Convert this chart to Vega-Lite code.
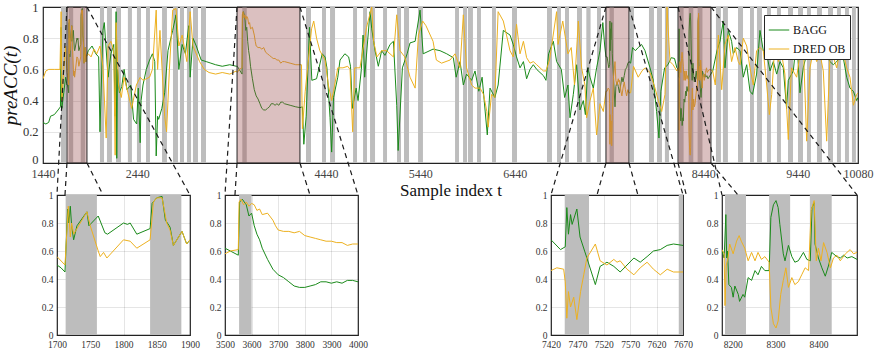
{
"$schema":"https://vega.github.io/schema/vega-lite/v6.json",
"background":"white",
"padding":{"left":0,"top":0,"right":0,"bottom":0},
"bounds":"flush",
"spacing":32,
"resolve":{"scale":{"color":"independent"}},
"config":{
  "font":"Liberation Serif",
  "view":{"stroke":"#262626","strokeWidth":1.2},
  "axis":{"labelFont":"Liberation Serif","titleFont":"Liberation Serif","labelColor":"#333","titleColor":"#111","domain":false,"ticks":false,"gridColor":"#000","gridOpacity":0.13,"gridWidth":0.8,"titleFontWeight":"normal","labelFlush":false,"labelOverlap":false,"labelBound":false,"zindex":1,"tickCount":40},
  "line":{"strokeWidth":1}
},
"datasets":{
"bands":[{"start":1631,"end":1684},{"start":1713,"end":1760},{"start":1840,"end":1887},{"start":2044,"end":2087},{"start":2118,"end":2171},{"start":2214,"end":2267},{"start":2340,"end":2383},{"start":2436,"end":2479},{"start":2532,"end":2574},{"start":2702,"end":2754},{"start":2818,"end":2871},{"start":2892,"end":2935},{"start":2966,"end":3009},{"start":3030,"end":3083},{"start":3115,"end":3168},{"start":3553,"end":3600},{"start":4228,"end":4281},{"start":4398,"end":4440},{"start":4483,"end":4536},{"start":4727,"end":4769},{"start":4833,"end":4875},{"start":4907,"end":4960},{"start":5045,"end":5087},{"start":5193,"end":5235},{"start":5267,"end":5320},{"start":5416,"end":5468},{"start":5808,"end":5850},{"start":5893,"end":5935},{"start":5945,"end":5998},{"start":6041,"end":6083},{"start":6200,"end":6242},{"start":6412,"end":6465},{"start":6783,"end":6836},{"start":6889,"end":6931},{"start":6974,"end":7016},{"start":7101,"end":7154},{"start":7200,"end":7245},{"start":7313,"end":7355},{"start":7446,"end":7492},{"start":7662,"end":7705},{"start":7864,"end":7917},{"start":7949,"end":8002},{"start":8033,"end":8076},{"start":8182,"end":8231},{"start":8285,"end":8334},{"start":8380,"end":8431},{"start":8574,"end":8627},{"start":8648,"end":8701},{"start":8808,"end":8861},{"start":8935,"end":8977},{"start":9009,"end":9062},{"start":9115,"end":9157},{"start":9221,"end":9263},{"start":9338,"end":9391},{"start":9444,"end":9497},{"start":9539,"end":9581},{"start":9645,"end":9698},{"start":9762,"end":9815},{"start":9857,"end":9899},{"start":9942,"end":9984},{"start":10016,"end":10058}],
"zones":[{"start":1694,"end":1906},{"start":3497,"end":4164},{"start":7408,"end":7652},{"start":8172,"end":8521}],
"links":[
{"x":1694,"y":1,"x2":1588,"y2":-0.205},{"x":1694,"y":0,"x2":1673,"y2":-0.205},{"x":1906,"y":0,"x2":2076,"y2":-0.205},{"x":1906,"y":1,"x2":2998,"y2":-0.205},
{"x":3497,"y":1,"x2":3369,"y2":-0.205},{"x":3497,"y":0,"x2":3475,"y2":-0.205},{"x":4164,"y":0,"x2":4270,"y2":-0.205},{"x":4164,"y":1,"x2":4779,"y2":-0.205},
{"x":7408,"y":1,"x2":6825,"y2":-0.205},{"x":7408,"y":0,"x2":7313,"y2":-0.205},{"x":7652,"y":0,"x2":7747,"y2":-0.205},{"x":7652,"y":1,"x2":8225,"y2":-0.205},
{"x":8172,"y":1,"x2":8638,"y2":-0.205},{"x":8172,"y":0,"x2":8260,"y2":-0.205},{"x":8521,"y":0,"x2":8808,"y2":-0.205},{"x":8521,"y":1,"x2":10069,"y2":-0.205}],
"bagg":[
{"t":1440,"v":0.26},{"t":1470,"v":0.25},{"t":1500,"v":0.26},{"t":1520,"v":0.30},{"t":1560,"v":0.31},{"t":1600,"v":0.34},{"t":1625,"v":0.36},{"t":1632,"v":0.87},{"t":1640,"v":0.35},{"t":1660,"v":0.45},{"t":1680,"v":0.55},{"t":1694,"v":0.50},
{"t":1700,"v":0.50},{"t":1706,"v":0.48},{"t":1712,"v":0.45},{"t":1716,"v":0.90},{"t":1718,"v":0.80},{"t":1720,"v":0.92},{"t":1722,"v":0.78},{"t":1725,"v":0.68},{"t":1730,"v":0.78},{"t":1745,"v":0.88},{"t":1748,"v":0.78},{"t":1762,"v":0.85},{"t":1772,"v":0.73},{"t":1776,"v":0.72},{"t":1800,"v":0.80},{"t":1806,"v":0.79},{"t":1810,"v":0.80},{"t":1820,"v":0.72},{"t":1840,"v":0.76},{"t":1843,"v":0.94},{"t":1850,"v":0.98},{"t":1858,"v":0.99},{"t":1863,"v":0.82},{"t":1866,"v":0.80},{"t":1870,"v":0.77},{"t":1875,"v":0.64},{"t":1888,"v":0.74},{"t":1895,"v":0.65},{"t":1900,"v":0.68},
{"t":1920,"v":0.72},{"t":1960,"v":0.75},{"t":2000,"v":0.70},{"t":2030,"v":0.68},{"t":2044,"v":0.20},{"t":2075,"v":0.85},{"t":2090,"v":0.90},{"t":2130,"v":0.55},{"t":2160,"v":0.70},{"t":2190,"v":0.76},{"t":2205,"v":0.30},{"t":2215,"v":0.97},{"t":2222,"v":0.03},{"t":2230,"v":0.60},{"t":2250,"v":0.45},{"t":2275,"v":0.49},{"t":2300,"v":0.60},{"t":2330,"v":0.47},{"t":2370,"v":0.50},{"t":2400,"v":0.28},{"t":2433,"v":0.25},{"t":2450,"v":0.48},{"t":2470,"v":0.13},{"t":2480,"v":0.40},{"t":2500,"v":0.50},{"t":2535,"v":0.60},{"t":2570,"v":0.66},{"t":2600,"v":0.70},{"t":2625,"v":0.65},{"t":2640,"v":0.045},{"t":2655,"v":0.30},{"t":2666,"v":0.28},{"t":2700,"v":0.35},{"t":2730,"v":0.45},{"t":2765,"v":0.72},{"t":2815,"v":0.85},{"t":2850,"v":0.95},{"t":2880,"v":0.60},{"t":2915,"v":0.76},{"t":2950,"v":0.70},{"t":2985,"v":0.88},{"t":3000,"v":0.55},{"t":3030,"v":0.80},{"t":3065,"v":0.75},{"t":3117,"v":0.66},{"t":3170,"v":0.65},{"t":3220,"v":0.64},{"t":3270,"v":0.63},{"t":3340,"v":0.62},{"t":3420,"v":0.63},{"t":3490,"v":0.62},
{"t":3500,"v":0.62},{"t":3520,"v":0.60},{"t":3550,"v":0.57},{"t":3555,"v":0.95},{"t":3565,"v":0.97},{"t":3580,"v":0.93},{"t":3590,"v":0.85},{"t":3600,"v":0.87},{"t":3610,"v":0.78},{"t":3620,"v":0.72},{"t":3630,"v":0.68},{"t":3640,"v":0.62},{"t":3660,"v":0.54},{"t":3680,"v":0.47},{"t":3700,"v":0.43},{"t":3720,"v":0.41},{"t":3740,"v":0.38},{"t":3760,"v":0.35},{"t":3780,"v":0.34},{"t":3800,"v":0.34},{"t":3820,"v":0.35},{"t":3840,"v":0.36},{"t":3860,"v":0.38},{"t":3880,"v":0.38},{"t":3900,"v":0.37},{"t":3920,"v":0.38},{"t":3940,"v":0.37},{"t":3960,"v":0.39},{"t":3980,"v":0.39},{"t":4000,"v":0.38},{"t":4060,"v":0.37},{"t":4120,"v":0.36},{"t":4164,"v":0.355},
{"t":4190,"v":0.36},{"t":4205,"v":0.12},{"t":4230,"v":0.30},{"t":4265,"v":0.87},{"t":4290,"v":0.53},{"t":4340,"v":0.54},{"t":4400,"v":0.70},{"t":4430,"v":0.68},{"t":4450,"v":0.61},{"t":4483,"v":0.29},{"t":4500,"v":0.07},{"t":4520,"v":0.42},{"t":4565,"v":0.55},{"t":4589,"v":0.66},{"t":4640,"v":0.70},{"t":4680,"v":0.68},{"t":4700,"v":0.62},{"t":4720,"v":0.35},{"t":4760,"v":0.48},{"t":4780,"v":0.40},{"t":4815,"v":0.60},{"t":4833,"v":0.82},{"t":4850,"v":0.55},{"t":4907,"v":0.97},{"t":4925,"v":0.86},{"t":4960,"v":0.72},{"t":4995,"v":0.62},{"t":5030,"v":0.72},{"t":5065,"v":0.69},{"t":5119,"v":0.76},{"t":5155,"v":0.78},{"t":5190,"v":0.37},{"t":5205,"v":0.08},{"t":5250,"v":0.61},{"t":5300,"v":0.70},{"t":5331,"v":0.77},{"t":5385,"v":0.78},{"t":5437,"v":0.98},{"t":5470,"v":0.70},{"t":5575,"v":0.73},{"t":5649,"v":0.72},{"t":5720,"v":0.70},{"t":5790,"v":0.675},{"t":5820,"v":0.55},{"t":5861,"v":0.65},{"t":5896,"v":0.50},{"t":5930,"v":0.57},{"t":5984,"v":0.53},{"t":6020,"v":0.59},{"t":6060,"v":0.46},{"t":6095,"v":0.55},{"t":6150,"v":0.18},{"t":6179,"v":0.48},{"t":6230,"v":0.42},{"t":6265,"v":0.50},{"t":6320,"v":0.85},{"t":6391,"v":0.82},{"t":6425,"v":0.76},{"t":6460,"v":0.68},{"t":6497,"v":0.61},{"t":6533,"v":0.65},{"t":6567,"v":0.54},{"t":6603,"v":0.60},{"t":6638,"v":0.63},{"t":6674,"v":0.60},{"t":6709,"v":0.58},{"t":6745,"v":0.56},{"t":6772,"v":0.53},{"t":6800,"v":0.70},{"t":6850,"v":0.78},{"t":6885,"v":0.65},{"t":6935,"v":0.60},{"t":6970,"v":0.42},{"t":7005,"v":0.50},{"t":7027,"v":0.29},{"t":7062,"v":0.44},{"t":7097,"v":0.63},{"t":7133,"v":0.34},{"t":7168,"v":0.40},{"t":7190,"v":0.31},{"t":7215,"v":0.61},{"t":7239,"v":0.55},{"t":7274,"v":0.48},{"t":7309,"v":0.61},{"t":7345,"v":0.72},{"t":7375,"v":0.90},{"t":7395,"v":0.75},{"t":7408,"v":0.68},
{"t":7420,"v":0.68},{"t":7438,"v":0.61},{"t":7447,"v":0.63},{"t":7450,"v":0.91},{"t":7453,"v":0.72},{"t":7457,"v":0.86},{"t":7460,"v":0.79},{"t":7469,"v":0.90},{"t":7475,"v":0.70},{"t":7488,"v":0.55},{"t":7504,"v":0.36},{"t":7513,"v":0.49},{"t":7526,"v":0.52},{"t":7539,"v":0.49},{"t":7551,"v":0.45},{"t":7564,"v":0.50},{"t":7577,"v":0.55},{"t":7589,"v":0.52},{"t":7602,"v":0.56},{"t":7614,"v":0.60},{"t":7627,"v":0.61},{"t":7640,"v":0.64},{"t":7652,"v":0.65},{"t":7670,"v":0.64},
{"t":7690,"v":0.74},{"t":7720,"v":0.72},{"t":7750,"v":0.74},{"t":7785,"v":0.76},{"t":7822,"v":0.72},{"t":7875,"v":0.61},{"t":7910,"v":0.53},{"t":7945,"v":0.33},{"t":7970,"v":0.16},{"t":7990,"v":0.46},{"t":8030,"v":0.61},{"t":8065,"v":0.63},{"t":8100,"v":0.675},{"t":8135,"v":0.67},{"t":8160,"v":0.61},
{"t":8175,"v":0.60},{"t":8180,"v":0.55},{"t":8184,"v":0.86},{"t":8186,"v":0.55},{"t":8188,"v":0.60},{"t":8191,"v":0.36},{"t":8197,"v":0.34},{"t":8201,"v":0.27},{"t":8205,"v":0.35},{"t":8213,"v":0.29},{"t":8216,"v":0.24},{"t":8224,"v":0.29},{"t":8228,"v":0.27},{"t":8236,"v":0.41},{"t":8244,"v":0.39},{"t":8252,"v":0.46},{"t":8259,"v":0.43},{"t":8267,"v":0.49},{"t":8275,"v":0.46},{"t":8285,"v":0.46},{"t":8289,"v":0.84},{"t":8295,"v":0.93},{"t":8301,"v":0.96},{"t":8306,"v":0.91},{"t":8310,"v":0.79},{"t":8318,"v":0.58},{"t":8322,"v":0.53},{"t":8330,"v":0.64},{"t":8338,"v":0.56},{"t":8345,"v":0.52},{"t":8353,"v":0.53},{"t":8365,"v":0.59},{"t":8373,"v":0.54},{"t":8381,"v":0.53},{"t":8385,"v":0.91},{"t":8390,"v":0.945},{"t":8392,"v":0.65},{"t":8400,"v":0.55},{"t":8408,"v":0.48},{"t":8416,"v":0.42},{"t":8424,"v":0.50},{"t":8431,"v":0.59},{"t":8443,"v":0.56},{"t":8451,"v":0.55},{"t":8459,"v":0.57},{"t":8467,"v":0.55},{"t":8478,"v":0.56},{"t":8490,"v":0.54},{"t":8510,"v":0.56},
{"t":8540,"v":0.59},{"t":8585,"v":0.72},{"t":8617,"v":0.78},{"t":8652,"v":0.91},{"t":8670,"v":0.61},{"t":8705,"v":0.85},{"t":8740,"v":0.78},{"t":8758,"v":0.70},{"t":8793,"v":0.74},{"t":8829,"v":0.72},{"t":8864,"v":0.55},{"t":8900,"v":0.63},{"t":8935,"v":0.46},{"t":8962,"v":0.44},{"t":9005,"v":0.57},{"t":9041,"v":0.85},{"t":9076,"v":0.72},{"t":9112,"v":0.70},{"t":9147,"v":0.59},{"t":9182,"v":0.65},{"t":9218,"v":0.57},{"t":9253,"v":0.65},{"t":9288,"v":0.61},{"t":9323,"v":0.35},{"t":9341,"v":0.53},{"t":9394,"v":0.59},{"t":9430,"v":0.80},{"t":9465,"v":0.45},{"t":9500,"v":0.61},{"t":9536,"v":0.70},{"t":9571,"v":0.72},{"t":9606,"v":0.85},{"t":9642,"v":0.74},{"t":9677,"v":0.675},{"t":9712,"v":0.70},{"t":9748,"v":0.69},{"t":9783,"v":0.65},{"t":9818,"v":0.63},{"t":9854,"v":0.65},{"t":9889,"v":0.68},{"t":9924,"v":0.675},{"t":9960,"v":0.55},{"t":9995,"v":0.48},{"t":10031,"v":0.46},{"t":10066,"v":0.40},{"t":10080,"v":0.42}],
"dred":[
{"t":1440,"v":0.54},{"t":1470,"v":0.59},{"t":1500,"v":0.60},{"t":1560,"v":0.60},{"t":1620,"v":0.60},{"t":1632,"v":0.97},{"t":1640,"v":0.40},{"t":1660,"v":0.60},{"t":1680,"v":0.75},{"t":1694,"v":0.58},
{"t":1700,"v":0.56},{"t":1712,"v":0.50},{"t":1717,"v":0.92},{"t":1720,"v":0.70},{"t":1722,"v":0.80},{"t":1725,"v":0.72},{"t":1745,"v":0.88},{"t":1750,"v":0.78},{"t":1762,"v":0.60},{"t":1765,"v":0.56},{"t":1770,"v":0.59},{"t":1775,"v":0.55},{"t":1800,"v":0.68},{"t":1810,"v":0.67},{"t":1820,"v":0.62},{"t":1840,"v":0.68},{"t":1845,"v":0.95},{"t":1850,"v":0.98},{"t":1858,"v":0.98},{"t":1865,"v":0.80},{"t":1870,"v":0.75},{"t":1875,"v":0.64},{"t":1888,"v":0.74},{"t":1895,"v":0.65},{"t":1900,"v":0.68},
{"t":1920,"v":0.70},{"t":1950,"v":0.68},{"t":1980,"v":0.73},{"t":2010,"v":0.70},{"t":2044,"v":0.75},{"t":2075,"v":0.62},{"t":2110,"v":0.16},{"t":2130,"v":0.75},{"t":2160,"v":0.78},{"t":2190,"v":0.72},{"t":2205,"v":0.05},{"t":2215,"v":0.90},{"t":2240,"v":0.50},{"t":2270,"v":0.42},{"t":2300,"v":0.55},{"t":2340,"v":0.45},{"t":2380,"v":0.35},{"t":2430,"v":0.50},{"t":2470,"v":0.55},{"t":2500,"v":0.53},{"t":2535,"v":0.54},{"t":2570,"v":0.55},{"t":2600,"v":0.60},{"t":2640,"v":0.98},{"t":2655,"v":0.60},{"t":2680,"v":0.85},{"t":2730,"v":0.30},{"t":2750,"v":0.20},{"t":2780,"v":0.60},{"t":2815,"v":0.98},{"t":2850,"v":0.99},{"t":2880,"v":0.75},{"t":2915,"v":0.82},{"t":2965,"v":0.65},{"t":3000,"v":0.97},{"t":3030,"v":0.75},{"t":3100,"v":0.65},{"t":3150,"v":0.60},{"t":3200,"v":0.58},{"t":3270,"v":0.57},{"t":3340,"v":0.58},{"t":3420,"v":0.57},{"t":3490,"v":0.59},
{"t":3500,"v":0.58},{"t":3520,"v":0.60},{"t":3550,"v":0.61},{"t":3553,"v":0.95},{"t":3560,"v":0.97},{"t":3570,"v":0.93},{"t":3580,"v":0.95},{"t":3590,"v":0.92},{"t":3600,"v":0.94},{"t":3610,"v":0.93},{"t":3620,"v":0.89},{"t":3630,"v":0.90},{"t":3640,"v":0.86},{"t":3660,"v":0.87},{"t":3680,"v":0.82},{"t":3690,"v":0.78},{"t":3700,"v":0.75},{"t":3720,"v":0.74},{"t":3740,"v":0.74},{"t":3760,"v":0.73},{"t":3780,"v":0.74},{"t":3800,"v":0.71},{"t":3820,"v":0.70},{"t":3840,"v":0.69},{"t":3860,"v":0.68},{"t":3880,"v":0.67},{"t":3900,"v":0.67},{"t":3920,"v":0.66},{"t":3940,"v":0.66},{"t":3960,"v":0.64},{"t":3980,"v":0.65},{"t":4000,"v":0.65},{"t":4060,"v":0.64},{"t":4120,"v":0.63},{"t":4164,"v":0.63},
{"t":4180,"v":0.63},{"t":4190,"v":0.22},{"t":4220,"v":0.46},{"t":4287,"v":0.86},{"t":4310,"v":0.91},{"t":4340,"v":0.80},{"t":4375,"v":0.72},{"t":4430,"v":0.66},{"t":4465,"v":0.50},{"t":4500,"v":0.40},{"t":4520,"v":0.46},{"t":4565,"v":0.61},{"t":4620,"v":0.61},{"t":4670,"v":0.62},{"t":4695,"v":0.60},{"t":4723,"v":0.20},{"t":4745,"v":0.61},{"t":4800,"v":0.61},{"t":4870,"v":0.87},{"t":4925,"v":1.0},{"t":4945,"v":0.78},{"t":4980,"v":0.68},{"t":5030,"v":0.72},{"t":5083,"v":0.72},{"t":5119,"v":0.70},{"t":5155,"v":0.68},{"t":5190,"v":0.95},{"t":5225,"v":0.72},{"t":5275,"v":0.68},{"t":5331,"v":0.55},{"t":5385,"v":0.48},{"t":5420,"v":0.82},{"t":5465,"v":0.91},{"t":5500,"v":0.88},{"t":5575,"v":0.78},{"t":5610,"v":0.66},{"t":5665,"v":0.64},{"t":5755,"v":0.66},{"t":5808,"v":0.70},{"t":5861,"v":0.61},{"t":5896,"v":0.95},{"t":5930,"v":0.61},{"t":5984,"v":0.50},{"t":6020,"v":0.48},{"t":6073,"v":0.48},{"t":6110,"v":0.44},{"t":6145,"v":0.33},{"t":6160,"v":0.23},{"t":6195,"v":0.44},{"t":6230,"v":0.42},{"t":6265,"v":0.97},{"t":6320,"v":0.91},{"t":6391,"v":0.72},{"t":6425,"v":0.68},{"t":6460,"v":0.89},{"t":6497,"v":0.70},{"t":6533,"v":0.78},{"t":6567,"v":0.675},{"t":6603,"v":0.64},{"t":6638,"v":0.65},{"t":6674,"v":0.63},{"t":6745,"v":0.59},{"t":6772,"v":0.59},{"t":6810,"v":0.66},{"t":6885,"v":0.97},{"t":6900,"v":0.76},{"t":6950,"v":0.91},{"t":7005,"v":0.70},{"t":7040,"v":0.74},{"t":7075,"v":0.50},{"t":7115,"v":0.91},{"t":7150,"v":0.61},{"t":7185,"v":0.50},{"t":7203,"v":0.29},{"t":7239,"v":0.40},{"t":7274,"v":0.48},{"t":7309,"v":0.18},{"t":7345,"v":0.38},{"t":7380,"v":0.33},{"t":7408,"v":0.46},
{"t":7420,"v":0.46},{"t":7431,"v":0.48},{"t":7444,"v":0.47},{"t":7447,"v":0.38},{"t":7450,"v":0.12},{"t":7453,"v":0.31},{"t":7457,"v":0.20},{"t":7463,"v":0.27},{"t":7469,"v":0.11},{"t":7476,"v":0.31},{"t":7482,"v":0.43},{"t":7488,"v":0.55},{"t":7504,"v":0.65},{"t":7513,"v":0.53},{"t":7526,"v":0.50},{"t":7539,"v":0.54},{"t":7545,"v":0.52},{"t":7551,"v":0.53},{"t":7564,"v":0.47},{"t":7577,"v":0.43},{"t":7589,"v":0.48},{"t":7602,"v":0.52},{"t":7614,"v":0.47},{"t":7627,"v":0.43},{"t":7640,"v":0.47},{"t":7652,"v":0.45},{"t":7670,"v":0.45},
{"t":7700,"v":0.62},{"t":7750,"v":0.55},{"t":7790,"v":0.59},{"t":7822,"v":0.61},{"t":7875,"v":0.58},{"t":7928,"v":0.48},{"t":7963,"v":0.40},{"t":7999,"v":0.33},{"t":8034,"v":0.44},{"t":8055,"v":1.0},{"t":8087,"v":0.65},{"t":8120,"v":0.63},{"t":8160,"v":0.59},
{"t":8175,"v":0.61},{"t":8180,"v":0.58},{"t":8182,"v":0.21},{"t":8185,"v":0.50},{"t":8189,"v":0.55},{"t":8193,"v":0.65},{"t":8201,"v":0.58},{"t":8209,"v":0.67},{"t":8215,"v":0.71},{"t":8220,"v":0.67},{"t":8228,"v":0.62},{"t":8236,"v":0.53},{"t":8244,"v":0.59},{"t":8252,"v":0.53},{"t":8259,"v":0.59},{"t":8267,"v":0.54},{"t":8275,"v":0.56},{"t":8285,"v":0.52},{"t":8289,"v":0.20},{"t":8295,"v":0.08},{"t":8301,"v":0.05},{"t":8306,"v":0.10},{"t":8312,"v":0.29},{"t":8318,"v":0.39},{"t":8324,"v":0.48},{"t":8330,"v":0.34},{"t":8338,"v":0.41},{"t":8345,"v":0.36},{"t":8353,"v":0.38},{"t":8361,"v":0.43},{"t":8369,"v":0.48},{"t":8377,"v":0.46},{"t":8383,"v":0.89},{"t":8390,"v":0.96},{"t":8395,"v":0.53},{"t":8400,"v":0.62},{"t":8406,"v":0.53},{"t":8412,"v":0.66},{"t":8420,"v":0.59},{"t":8428,"v":0.48},{"t":8435,"v":0.55},{"t":8443,"v":0.57},{"t":8451,"v":0.53},{"t":8463,"v":0.58},{"t":8474,"v":0.61},{"t":8482,"v":0.58},{"t":8490,"v":0.59},{"t":8510,"v":0.60},
{"t":8540,"v":0.59},{"t":8567,"v":0.50},{"t":8600,"v":0.82},{"t":8635,"v":0.47},{"t":8670,"v":0.76},{"t":8705,"v":0.82},{"t":8740,"v":0.65},{"t":8776,"v":0.74},{"t":8811,"v":0.65},{"t":8829,"v":0.63},{"t":8864,"v":0.80},{"t":8900,"v":0.75},{"t":8935,"v":0.61},{"t":8970,"v":0.50},{"t":9005,"v":0.72},{"t":9041,"v":0.74},{"t":9076,"v":0.72},{"t":9112,"v":0.50},{"t":9140,"v":0.31},{"t":9165,"v":0.44},{"t":9218,"v":0.94},{"t":9235,"v":0.65},{"t":9270,"v":0.70},{"t":9305,"v":0.57},{"t":9341,"v":0.15},{"t":9375,"v":0.61},{"t":9430,"v":0.55},{"t":9465,"v":0.70},{"t":9500,"v":0.76},{"t":9536,"v":0.14},{"t":9571,"v":0.61},{"t":9606,"v":0.72},{"t":9642,"v":0.65},{"t":9677,"v":0.70},{"t":9712,"v":0.59},{"t":9748,"v":0.14},{"t":9783,"v":0.68},{"t":9818,"v":0.68},{"t":9854,"v":0.61},{"t":9889,"v":0.72},{"t":9924,"v":0.70},{"t":9960,"v":0.61},{"t":9995,"v":0.55},{"t":10031,"v":0.37},{"t":10066,"v":0.44},{"t":10080,"v":0.45}]
},
"vconcat":[
{
 "width":815,"height":156,
 "layer":[
  {"data":{"name":"bands"},"mark":{"type":"rect","color":"#bdbdbd","clip":true},
   "encoding":{"x":{"field":"start","type":"quantitative","scale":{"domain":[1440,10080],"nice":false,"zero":false},
     "axis":{"values":[1440,2440,4440,5440,6440,8440,9440,10080],"tickCount":40,"format":"d","title":"Sample index t","grid":false,"labelFont":"Liberation Serif","labelFontSize":12,"labelColor":"#444","labelPadding":5,"labelOverlap":false,"titleFont":"Liberation Serif","titleFontSize":17,"titlePadding":3}},
    "x2":{"field":"end"}}},
  {"data":{"name":"bagg"},"mark":{"type":"line","clip":true,"strokeWidth":1},
   "encoding":{"x":{"field":"t","type":"quantitative"},
    "y":{"field":"v","type":"quantitative","scale":{"domain":[0,1],"nice":false},
      "axis":{"values":[0,0.2,0.4,0.6,0.8,1],"tickCount":40,"format":"~g","title":"preACC(t)","grid":true,"labelFont":"Liberation Serif","labelFontSize":12.5,"labelColor":"#333","labelPadding":5,"labelOverlap":false,"labelBaseline":{"condition":{"test":"datum.value === 0","value":"alphabetic"},"value":"middle"},"titleFont":"Liberation Serif","titleFontSize":19,"titleFontStyle":"italic","titlePadding":2}},
    "color":{"datum":"BAGG","type":"nominal","scale":{"domain":["BAGG","DRED OB"],"range":["#1a8a1a","#EDB120"]},
      "legend":{"orient":"top-right","offset":8,"title":null,"symbolType":"stroke","symbolSize":420,"symbolStrokeWidth":1.5,"labelFont":"Liberation Serif","labelFontSize":12,"labelColor":"#111","strokeColor":"#262626","fillColor":"white","padding":4,"rowPadding":2,"labelOffset":3}}}},
  {"data":{"name":"dred"},"mark":{"type":"line","clip":true,"strokeWidth":1},
   "encoding":{"x":{"field":"t","type":"quantitative"},"y":{"field":"v","type":"quantitative"},"color":{"datum":"DRED OB","type":"nominal"}}},
  {"data":{"name":"zones"},"mark":{"type":"rect","fill":"#9c5050","fillOpacity":0.36,"stroke":"#262626","strokeWidth":1},
   "encoding":{"x":{"field":"start","type":"quantitative"},"x2":{"field":"end"}}},
  {"data":{"name":"links"},"mark":{"type":"rule","strokeDash":[5,4],"color":"#1a1a1a","strokeWidth":1.2},
   "encoding":{"x":{"field":"x","type":"quantitative"},"x2":{"field":"x2"},"y":{"field":"y","type":"quantitative"},"y2":{"field":"y2"}}}
 ]
},
{
 "bounds":"flush",
 "spacing":0,
 "hconcat":[
  {"width":14,"height":140,"view":{"stroke":null},"data":{"values":[{"a":1}]},"mark":{"type":"point","opacity":0}},
  {"width":133,"height":140,
   "layer":[
    {"data":{"name":"bands"},"mark":{"type":"rect","color":"#bdbdbd","clip":true},
     "encoding":{"x":{"field":"start","type":"quantitative","scale":{"domain":[1700,1900],"nice":false,"zero":false},"axis":{"values":[1700,1750,1800,1850,1900],"tickCount":40,"format":"d","title":null,"grid":true,"labelFont":"Liberation Serif","labelFontSize":9.5,"labelPadding":4,"labelOverlap":false}},"x2":{"field":"end"}}},
    {"data":{"name":"bagg"},"mark":{"type":"line","clip":true},
     "encoding":{"x":{"field":"t","type":"quantitative"},"y":{"field":"v","type":"quantitative","scale":{"domain":[0,1],"nice":false},"axis":{"values":[0,0.2,0.4,0.6,0.8,1],"tickCount":40,"format":"~g","title":null,"grid":true,"labelFont":"Liberation Serif","labelFontSize":9.5,"labelPadding":4,"labelOverlap":false}},
      "color":{"datum":"BAGG","type":"nominal","scale":{"domain":["BAGG","DRED OB"],"range":["#1a8a1a","#EDB120"]},"legend":null}}},
    {"data":{"name":"dred"},"mark":{"type":"line","clip":true},
     "encoding":{"x":{"field":"t","type":"quantitative"},"y":{"field":"v","type":"quantitative"},"color":{"datum":"DRED OB","type":"nominal","legend":null}}}
   ]},
  {"width":35,"height":140,"view":{"stroke":null},"data":{"values":[{"a":1}]},"mark":{"type":"point","opacity":0}},
  {"width":133,"height":140,
   "layer":[
    {"data":{"name":"bands"},"mark":{"type":"rect","color":"#bdbdbd","clip":true},
     "encoding":{"x":{"field":"start","type":"quantitative","scale":{"domain":[3500,4000],"nice":false,"zero":false},"axis":{"values":[3500,3600,3700,3800,3900,4000],"tickCount":40,"format":"d","title":null,"grid":true,"labelFont":"Liberation Serif","labelFontSize":9.5,"labelPadding":4,"labelOverlap":false}},"x2":{"field":"end"}}},
    {"data":{"name":"bagg"},"mark":{"type":"line","clip":true},
     "encoding":{"x":{"field":"t","type":"quantitative"},"y":{"field":"v","type":"quantitative","scale":{"domain":[0,1],"nice":false},"axis":{"values":[0,0.2,0.4,0.6,0.8,1],"tickCount":40,"format":"~g","title":null,"grid":true,"labelFont":"Liberation Serif","labelFontSize":9.5,"labelPadding":4,"labelOverlap":false}},
      "color":{"datum":"BAGG","type":"nominal","scale":{"domain":["BAGG","DRED OB"],"range":["#1a8a1a","#EDB120"]},"legend":null}}},
    {"data":{"name":"dred"},"mark":{"type":"line","clip":true},
     "encoding":{"x":{"field":"t","type":"quantitative"},"y":{"field":"v","type":"quantitative"},"color":{"datum":"DRED OB","type":"nominal","legend":null}}}
   ]},
  {"width":193,"height":140,"view":{"stroke":null},"data":{"values":[{"a":1}]},"mark":{"type":"point","opacity":0}},
  {"width":132,"height":140,
   "layer":[
    {"data":{"name":"bands"},"mark":{"type":"rect","color":"#bdbdbd","clip":true},
     "encoding":{"x":{"field":"start","type":"quantitative","scale":{"domain":[7420,7670],"nice":false,"zero":false},"axis":{"values":[7420,7470,7520,7570,7620,7670],"tickCount":40,"format":"d","title":null,"grid":true,"labelFont":"Liberation Serif","labelFontSize":9.5,"labelPadding":4,"labelOverlap":false}},"x2":{"field":"end"}}},
    {"data":{"name":"bagg"},"mark":{"type":"line","clip":true},
     "encoding":{"x":{"field":"t","type":"quantitative"},"y":{"field":"v","type":"quantitative","scale":{"domain":[0,1],"nice":false},"axis":{"values":[0,0.2,0.4,0.6,0.8,1],"tickCount":40,"format":"~g","title":null,"grid":true,"labelFont":"Liberation Serif","labelFontSize":9.5,"labelPadding":4,"labelOverlap":false}},
      "color":{"datum":"BAGG","type":"nominal","scale":{"domain":["BAGG","DRED OB"],"range":["#1a8a1a","#EDB120"]},"legend":null}}},
    {"data":{"name":"dred"},"mark":{"type":"line","clip":true},
     "encoding":{"x":{"field":"t","type":"quantitative"},"y":{"field":"v","type":"quantitative"},"color":{"datum":"DRED OB","type":"nominal","legend":null}}}
   ]},
  {"width":39,"height":140,"view":{"stroke":null},"data":{"values":[{"a":1}]},"mark":{"type":"point","opacity":0}},
  {"width":135,"height":140,
   "layer":[
    {"data":{"name":"bands"},"mark":{"type":"rect","color":"#bdbdbd","clip":true},
     "encoding":{"x":{"field":"start","type":"quantitative","scale":{"domain":[8175,8490],"nice":false,"zero":false},"axis":{"values":[8200,8300,8400],"tickCount":40,"format":"d","title":null,"grid":true,"labelFont":"Liberation Serif","labelFontSize":9.5,"labelPadding":4,"labelOverlap":false}},"x2":{"field":"end"}}},
    {"data":{"name":"bagg"},"mark":{"type":"line","clip":true},
     "encoding":{"x":{"field":"t","type":"quantitative"},"y":{"field":"v","type":"quantitative","scale":{"domain":[0,1],"nice":false},"axis":{"values":[0,0.2,0.4,0.6,0.8,1],"tickCount":40,"format":"~g","title":null,"grid":true,"labelFont":"Liberation Serif","labelFontSize":9.5,"labelPadding":4,"labelOverlap":false}},
      "color":{"datum":"BAGG","type":"nominal","scale":{"domain":["BAGG","DRED OB"],"range":["#1a8a1a","#EDB120"]},"legend":null}}},
    {"data":{"name":"dred"},"mark":{"type":"line","clip":true},
     "encoding":{"x":{"field":"t","type":"quantitative"},"y":{"field":"v","type":"quantitative"},"color":{"datum":"DRED OB","type":"nominal","legend":null}}}
   ]}
 ]
}
]
}
